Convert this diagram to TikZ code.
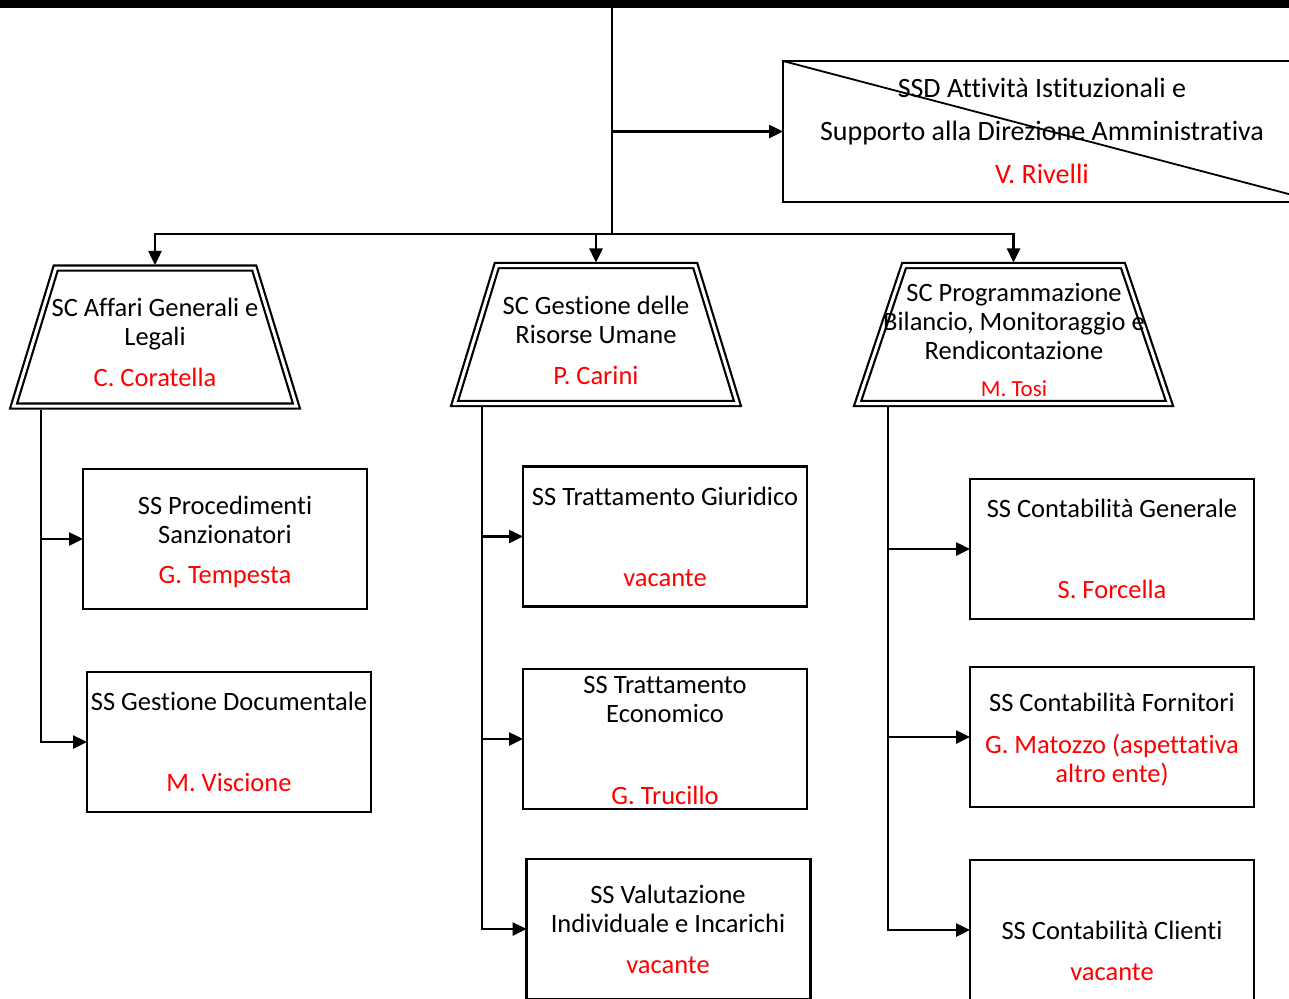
\documentclass[tikz,border=0pt]{standalone}
\usepackage{fontspec}
\setmainfont{Carlito}[Ligatures=NoCommon]
\usetikzlibrary{shapes.geometric,arrows.meta}

\begin{document}
\begin{tikzpicture}[x=1pt,y=-1pt,
  box/.style={draw,line width=2.5pt,minimum width=284pt,minimum height=140pt,outer sep=0pt},
  sc/.style={trapezium,trapezium stretches=true,trapezium angle=78,draw,line width=2.2pt,double,double distance=3pt,minimum height=138pt,outer sep=0pt},
  txt/.style={font=\fontsize{26.5}{29}\selectfont,align=center,inner sep=0pt,anchor=base},
  nm/.style={txt,text=red},
  big/.style={font=\fontsize{28}{31}\selectfont},
  ln/.style={line width=2.5pt},
  arr/.style={line width=2.5pt,-{Triangle[length=14pt,width=13pt]}}]
\useasboundingbox (0,0) rectangle (1289,998);
\clip (0,0) rectangle (1289,998);

%top bar and SSD box
\fill (0,0) rectangle (1289,8);
\node[box,minimum width=536pt,minimum height=141pt] (ssd) at (1051,131.5) {};
\draw[line width=1.8pt] (ssd.north west) -- (ssd.south east);
\node[txt,big] (t-ssd) at (1042,97) {SSD Attività Istituzionali e};
\node[txt,big] (t-ssd2) at (1042,140) {Supporto alla Direzione Amministrativa};
\node[nm,big] (n-ssd) at (1042,183) {V. Rivelli};

%SC
\node[sc,minimum width=283pt] (sc1) at (155,337) {};
\node[sc,minimum width=283pt] (sc2) at (596,334.5) {};
\node[sc,minimum width=312pt] (sc3) at (1013.5,334.5) {};
\node[txt] (t-sc1) at (155,345) {SC Affari Generali e\\Legali};
\node[nm] (n-sc1) at (155,386) {C. Coratella};
\node[txt] (t-sc2) at (596,343) {SC Gestione delle\\Risorse Umane};
\node[nm] (n-sc2) at (596,384) {P. Carini};
\node[txt] (t-sc3) at (1014,359) {SC Programmazione\\Bilancio, Monitoraggio e\\Rendicontazione};
\node[nm,font=\fontsize{23}{27}\selectfont] (n-sc3) at (1014,396) {M. Tosi};

%SS
\node[box] (ss-pro) at (225,539) {};
\node[box] (ss-doc) at (229,742) {};
\node[box] (ss-giu) at (665,536.5) {};
\node[box] (ss-eco) at (665,739) {};
\node[box] (ss-val) at (668.5,929) {};
\node[box] (ss-gen) at (1112,549) {};
\node[box] (ss-for) at (1112,737) {};
\node[box] (ss-cli) at (1112,930) {};

\node[txt] (t-pro) at (225,543) {SS Procedimenti\\Sanzionatori};
\node[nm] (n-pro) at (225,583) {G. Tempesta};
\node[txt] (t-doc) at (229,710) {SS Gestione Documentale};
\node[nm] (n-doc) at (229,791) {M. Viscione};
\node[txt] (t-giu) at (665,505) {SS Trattamento Giuridico};
\node[nm] (n-giu) at (665,586) {vacante};
\node[txt] (t-eco) at (665,722) {SS Trattamento\\Economico};
\node[nm] (n-eco) at (665,804) {G. Trucillo};
\node[txt] (t-val) at (668,932) {SS Valutazione\\Individuale e Incarichi};
\node[nm] (n-val) at (668,973) {vacante};
\node[txt] (t-gen) at (1112,517) {SS Contabilità Generale};
\node[nm] (n-gen) at (1112,598) {S. Forcella};
\node[txt] (t-for) at (1112,711) {SS Contabilità Fornitori};
\node[nm] (n-for) at (1112,782) {G. Matozzo (aspettativa\\altro ente)};
\node[txt] (t-cli) at (1112,939) {SS Contabilità Clienti};
\node[nm] (n-cli) at (1112,980) {vacante};

%connectors
\coordinate (top) at (612,8);
\coordinate (jn) at (612,234);
\draw[ln] (top) -- (jn);
\draw[arr] (top |- ssd.west) -- (ssd.west);
\draw[arr,shorten >=3pt] (jn) -| (sc1.north);
\draw[arr,shorten >=3pt] (jn) -| (sc2.north);
\draw[arr,shorten >=3pt] (jn) -| (sc3.north);

\coordinate (b1) at (41,410);
\coordinate (b2) at (482,407);
\coordinate (b3) at (888,407);
\draw[arr] (b1) |- (ss-pro.west);
\draw[arr] (b1) |- (ss-doc.west);
\draw[arr] (b2) |- (ss-giu.west);
\draw[arr] (b2) |- (ss-eco.west);
\draw[arr] (b2) |- (ss-val.west);
\draw[arr] (b3) |- (ss-gen.west);
\draw[arr] (b3) |- (ss-for.west);
\draw[arr] (b3) |- (ss-cli.west);
\end{tikzpicture}
\end{document}
